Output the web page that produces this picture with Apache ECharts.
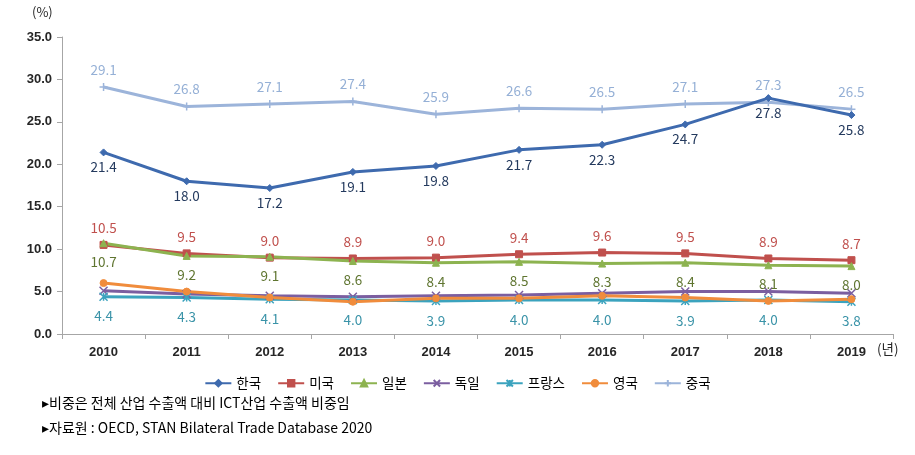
<!DOCTYPE html>
<html><head><meta charset="utf-8">
<script src="https://cdn.jsdelivr.net/npm/echarts@6/dist/echarts.min.js"></script>
<style>html,body{margin:0;padding:0;background:#fff}#c{width:915px;height:455px}</style>
</head><body><div id="c"></div>
<script>
const years = ['2010','2011','2012','2013','2014','2015','2016','2017','2018','2019'];
const korea   = [21.4, 18.0, 17.2, 19.1, 19.8, 21.7, 22.3, 24.7, 27.8, 25.8];
const usa     = [10.5, 9.5, 9.0, 8.9, 9.0, 9.4, 9.6, 9.5, 8.9, 8.7];
const japan   = [10.7, 9.2, 9.1, 8.6, 8.4, 8.5, 8.3, 8.4, 8.1, 8.0];
const germany = [5.1, 4.7, 4.5, 4.4, 4.5, 4.6, 4.8, 5.0, 5.0, 4.8];
const france  = [4.4, 4.3, 4.1, 4.0, 3.9, 4.0, 4.0, 3.9, 4.0, 3.8];
const uk      = [6.0, 5.0, 4.3, 3.8, 4.2, 4.2, 4.5, 4.3, 3.9, 4.1];
const china   = [29.1, 26.8, 27.1, 27.4, 25.9, 26.6, 26.5, 27.1, 27.3, 26.5];
const names = ['한국','미국','일본','독일','프랑스','영국','중국'];
const yTicks = {min: 0, max: 35, interval: 5};

const FONT = '"Noto Sans CJK KR", "Liberation Sans", sans-serif';
function lbl(pos, color, dist){
  return {show:true, position:pos, distance:dist, color:color, fontSize:13.5, fontFamily:FONT,
          formatter: p => p.value.toFixed(1)};
}
function ser(name, data, color, symbol, size, label, z, bw){
  return {name, type:'line', data, symbol, symbolSize:size, z:z||2,
    lineStyle:{color, width:3}, itemStyle:{color, borderColor:color, borderWidth:bw||1},
    label: label || {show:false}, animation:false};
}
const chart = echarts.init(document.getElementById('c'));
chart.setOption({
  animation:false,
  grid:{left:62, right:22, top:37, bottom:121},
  legend:{
    bottom:60, left:'center', itemWidth:26, itemHeight:8, itemGap:16,
    textStyle:{fontSize:13.5, color:'#000', fontFamily:FONT},
    data: names
  },
  xAxis:{
    type:'category', data: years, boundaryGap:true,
    axisLine:{lineStyle:{color:'#A6A6A6', width:1}},
    axisTick:{show:true, length:5, lineStyle:{color:'#A6A6A6'}},
    axisLabel:{color:'#262626', fontSize:13, fontWeight:'bold', margin:12, fontFamily:'"Liberation Sans", sans-serif'}
  },
  yAxis:{
    type:'value', min:yTicks.min, max:yTicks.max, interval:yTicks.interval,
    splitLine:{show:false},
    axisLine:{show:true, lineStyle:{color:'#A6A6A6', width:1}},
    axisTick:{show:true, length:5, lineStyle:{color:'#A6A6A6'}},
    axisLabel:{color:'#262626', fontSize:13, fontWeight:'bold', margin:10, formatter: v => v.toFixed(1), fontFamily:'"Liberation Sans", sans-serif'}
  },
  graphic:[
    {type:'text', left:32, top:6, style:{text:'(%)', fontSize:13, fill:'#262626', fontFamily:FONT}},
    {type:'text', left:877, top:342, style:{text:'(년)', fontSize:13.5, fill:'#262626', fontFamily:FONT}},
    {type:'text', left:42, top:396, style:{text:'▸비중은 전체 산업 수출액 대비 ICT산업 수출액 비중임', fontSize:14, fill:'#000', fontFamily:FONT}},
    {type:'text', left:42, top:421, style:{text:'▸자료원 : OECD, STAN Bilateral Trade Database 2020', fontSize:14, fill:'#000', fontFamily:FONT}}
  ],
  series:[
    ser('한국', korea, '#3E6AAE', 'diamond', 7, lbl('bottom','#243A5E',4), 5),
    ser('미국', usa, '#C0504D', 'rect', 7, lbl('top','#C0504D',6), 4),
    ser('일본', japan, '#8DB350', 'triangle', 7, lbl('bottom','#5F7530',8), 4),
    ser('독일', germany, '#7B5EA0', 'path://M0,0L10,10M10,0L0,10', 8, null, 3, 1.5),
    ser('프랑스', france, '#3BA3BE', 'path://M0,0L10,10M10,0L0,10M5,0L5,10', 8, lbl('bottom','#3A93A8',8), 3, 1.5),
    ser('영국', uk, '#F08C3C', 'circle', 7, null, 3),
    ser('중국', china, '#9CB4DA', 'path://M5,0L5,10M0,5L10,5', 8, lbl('top','#95B0D6',6), 2, 1.5)
  ]
});
</script></body></html>
